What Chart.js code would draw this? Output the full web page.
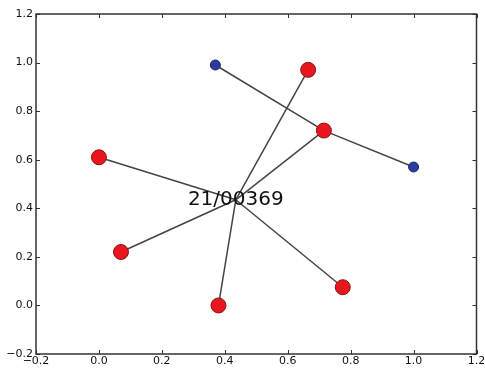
<!DOCTYPE html>
<html>
<head>
<meta charset="utf-8">
<script src="https://cdn.jsdelivr.net/npm/chart.js@4/dist/chart.umd.min.js"></script>
<style>
  body { margin: 0; background: #fff; }
  #wrap { width: 485px; height: 371px; }
</style>
</head>
<body>
<div id="wrap"><canvas id="chart" width="485" height="371"></canvas></div>
<script>
// values
const hub = { x: 0.435, y: 0.435 };
const hubLabel = '21/00369';
const redX = [0.665, 0.715, 0.0, 0.07, 0.38, 0.775];
const redY = [0.97, 0.72, 0.61, 0.22, 0.0, 0.075];
const blueX = [0.37, 1.0];
const blueY = [0.99, 0.57];
// blue nodes hang off the red node at index 1
const blueParent = 1;
const tickValues = [-0.2, 0.0, 0.2, 0.4, 0.6, 0.8, 1.0, 1.2];

const lineColor = '#444444';
const segments = [];
redX.forEach((x, i) => segments.push([hub, { x: x, y: redY[i] }]));
blueX.forEach((x, i) => segments.push([{ x: x, y: blueY[i] }, { x: redX[blueParent], y: redY[blueParent] }]));

const datasets = segments.map(seg => ({
    data: seg,
    showLine: true,
    borderColor: lineColor,
    borderWidth: 1.5,
    pointRadius: 0,
    order: 3
}));
datasets.push({
    data: blueX.map((x, i) => ({ x: x, y: blueY[i] })),
    pointRadius: 5,
    pointBackgroundColor: '#2b3b9e',
    pointBorderColor: '#18225e',
    pointBorderWidth: 1,
    order: 1
});
datasets.push({
    data: redX.map((x, i) => ({ x: x, y: redY[i] })),
    pointRadius: 7.5,
    pointBackgroundColor: '#e8161f',
    pointBorderColor: '#8a1414',
    pointBorderWidth: 1,
    order: 0
});

const fmt = v => {
    const s = Math.abs(v).toFixed(1);
    return v < -1e-9 ? '\u2212' + s : s;
};

// matplotlib-style frame with inward ticks on all four sides
const framePlugin = {
    id: 'frame',
    afterDatasetsDraw(chart) {
        const { ctx, chartArea: a, scales } = chart;
        ctx.save();
        ctx.strokeStyle = '#333';
        ctx.lineWidth = 1;
        ctx.beginPath();
        tickValues.forEach(v => {
            const px = Math.round(scales.x.getPixelForValue(v)) + 0.5;
            ctx.moveTo(px, a.bottom); ctx.lineTo(px, a.bottom - 4);
            ctx.moveTo(px, a.top); ctx.lineTo(px, a.top + 4);
            const py = Math.round(scales.y.getPixelForValue(v)) + 0.5;
            ctx.moveTo(a.left, py); ctx.lineTo(a.left + 4, py);
            ctx.moveTo(a.right, py); ctx.lineTo(a.right - 4, py);
        });
        ctx.stroke();
        ctx.lineWidth = 1.5;
        ctx.strokeRect(a.left, a.top, a.right - a.left, a.bottom - a.top);

        ctx.fillStyle = '#111';
        ctx.font = '20px "DejaVu Sans"';
        ctx.textAlign = 'center';
        ctx.textBaseline = 'middle';
        ctx.fillText(hubLabel, scales.x.getPixelForValue(hub.x), scales.y.getPixelForValue(hub.y));
        ctx.restore();
    }
};

const tickFont = { family: 'DejaVu Sans', size: 11 };

new Chart(document.getElementById('chart'), {
    type: 'scatter',
    data: { datasets: datasets },
    options: {
        responsive: false,
        animation: false,
        layout: { padding: { top: 14, right: 8, left: 0, bottom: 0 } },
        plugins: { legend: { display: false }, tooltip: { enabled: false } },
        scales: {
            x: {
                type: 'linear', min: -0.2, max: 1.2,
                afterBuildTicks: s => { s.ticks = tickValues.map(v => ({ value: v })); },
                afterFit: s => { s.height = 17; s.paddingLeft = 0; s.paddingRight = 0; },
                ticks: { font: tickFont, color: '#111', padding: 1, maxRotation: 0, autoSkip: false, callback: fmt },
                grid: { display: false, drawTicks: false },
                border: { display: false }
            },
            y: {
                type: 'linear', min: -0.2, max: 1.2,
                afterBuildTicks: s => { s.ticks = tickValues.map(v => ({ value: v })); },
                afterFit: s => { s.width = 36; s.paddingTop = 0; s.paddingBottom = 0; },
                ticks: { font: tickFont, color: '#111', padding: 3, autoSkip: false, callback: fmt },
                grid: { display: false, drawTicks: false },
                border: { display: false }
            }
        }
    },
    plugins: [framePlugin]
});
</script>
</body>
</html>
